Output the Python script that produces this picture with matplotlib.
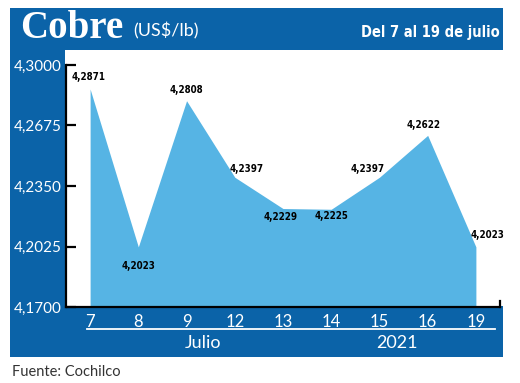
import matplotlib.pyplot as plt
from matplotlib.patches import Rectangle
from matplotlib.lines import Line2D

# datos
dias = ['7', '8', '9', '12', '13', '14', '15', '16', '19']
precios = [4.2871, 4.2023, 4.2808, 4.2397, 4.2229, 4.2225, 4.2397, 4.2622, 4.2023]
yticks = [4.1700, 4.2025, 4.2350, 4.2675, 4.3000]

# offsets de etiquetas (px): dx, dy (dy positivo = arriba)
offsets = [(-2, 12), (0, -19), (0, 11), (12, 8), (-2, -8), (0, -7), (-12, 8), (-4, 10), (12, 12)]

W, H = 520, 383
AZUL = '#0b63a8'
CELESTE = '#56b4e4'
SANS = ['Lato', 'DejaVu Sans']


def fx(x):
    return x / W


def fy(y):
    return 1 - y / H


fig = plt.figure(figsize=(W / 100, H / 100), dpi=100)
fig.patch.set_facecolor('white')

# fondos azules
for x0, y0, x1, y1 in [(10, 8, 503, 50), (10, 50, 65, 357), (10, 306, 503, 357)]:
    fig.patches.append(Rectangle((fx(x0), fy(y1)), fx(x1 - x0), (y1 - y0) / H,
                                 transform=fig.transFigure, facecolor=AZUL,
                                 edgecolor='none', zorder=0))

ax = fig.add_axes([fx(66), fy(307), fx(500 - 66), (307 - 65) / H])
ax.set_facecolor('none')
ax.set_zorder(2)

x = list(range(len(dias)))
ax.fill_between(x, precios, yticks[0], color=CELESTE, linewidth=0, zorder=2)

ax.set_xlim(-0.5, len(dias) - 0.5)
ax.set_ylim(yticks[0], yticks[-1])
ax.set_yticks(yticks)
ax.set_yticklabels([f'{v:.4f}'.replace('.', ',') for v in yticks])
ax.set_xticks(x)
ax.set_xticklabels(dias)

ax.spines['top'].set_visible(False)
ax.spines['right'].set_visible(False)
ax.spines['left'].set_linewidth(1.6)
ax.spines['bottom'].set_linewidth(1.6)
ax.tick_params(axis='y', direction='in', length=7, width=1.6, pad=3,
               labelsize=11, labelcolor='white')
ax.tick_params(axis='x', length=0, pad=5, labelsize=12, labelcolor='white')
for lbl in ax.get_xticklabels() + ax.get_yticklabels():
    lbl.set_family(SANS)

# etiquetas de valores
for i, (v, (dx, dy)) in enumerate(zip(precios, offsets)):
    ax.annotate(f'{v:.4f}'.replace('.', ','), (i, v), xytext=(dx * 0.72, dy * 0.72),
                textcoords='offset points', ha='center', va='center',
                fontsize=7, fontweight='bold', fontstretch='condensed', color='black',
                family='DejaVu Sans', zorder=5)

# marca al final del eje x
ax.plot([1, 1], [0, 0.025], transform=ax.transAxes, color='black', lw=1.6, clip_on=False)

# linea blanca bajo los dias
fig.lines.append(Line2D([fx(87), fx(495)], [fy(329), fy(329)], transform=fig.transFigure,
                        color='white', lw=1.3))

fig.text(fx(203), fy(343), 'Julio', color='white', fontsize=13, ha='center', va='center',
         family=SANS)
fig.text(fx(397), fy(343), '2021', color='white', fontsize=13, ha='center', va='center',
         family=SANS)

# titulo
fig.text(fx(20), fy(28), 'Cobre', color='white', fontsize=28, fontweight='bold',
         ha='left', va='center', family=['Liberation Serif', 'DejaVu Serif'])
fig.text(fx(133), fy(31), '(US$/lb)', color='white', fontsize=13, ha='left', va='center',
         family=SANS)
fig.text(fx(500), fy(32), 'Del 7 al 19 de julio', color='white', fontsize=10.5,
         fontweight='bold', fontstretch='condensed', ha='right', va='center',
         family='DejaVu Sans')

fig.text(fx(12), fy(372), 'Fuente: Cochilco', color='#333333', fontsize=10.5,
         ha='left', va='center', family=SANS)

fig.savefig('out.png', dpi=100)
